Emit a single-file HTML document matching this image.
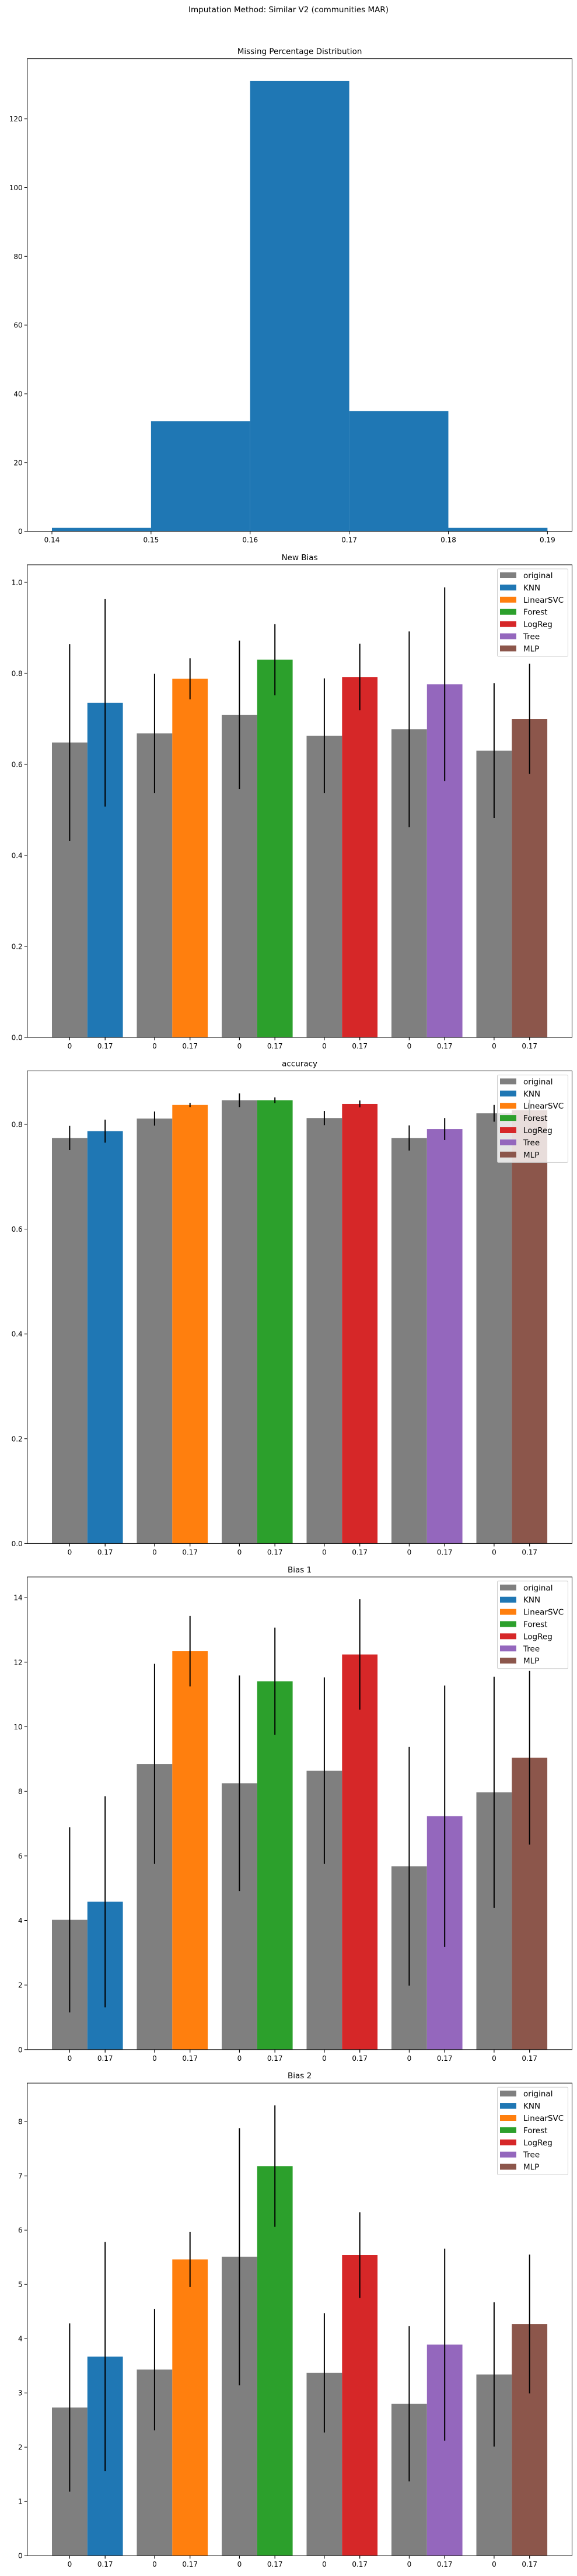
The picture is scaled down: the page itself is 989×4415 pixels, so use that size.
<!DOCTYPE html>
<html><head><meta charset="utf-8"><style>
html,body{margin:0;padding:0;background:#fff;}
svg{display:block;font-family:"DejaVu Sans","Liberation Sans",sans-serif;}
</style></head><body>
<svg id="fig" width="989" height="4415" viewBox="0 0 989 4415" xmlns="http://www.w3.org/2000/svg">
<rect width="989" height="4415" fill="#fff"/>
<text x="494.5" y="21" text-anchor="middle" font-size="13.5">Imputation Method: Similar V2 (communities MAR)</text>
</svg>
<script>
// ---- Histogram data ----
const histEdges = [0.14, 0.15, 0.16, 0.17, 0.18, 0.19];
const histCounts = [1, 32, 131, 35, 1];
const histYTicks = [0, 20, 40, 60, 80, 100, 120];
const histXTicks = ["0.14", "0.15", "0.16", "0.17", "0.18", "0.19"];

// ---- Bar chart data ----
const methods = ["KNN", "LinearSVC", "Forest", "LogReg", "Tree", "MLP"];
const xTickLabels = ["0", "0.17"];
const newBiasOrig = [0.648, 0.668, 0.709, 0.663, 0.677, 0.630];
const newBiasOrigErr = [0.216, 0.131, 0.163, 0.126, 0.215, 0.148];
const newBiasImp = [0.735, 0.788, 0.830, 0.792, 0.776, 0.700];
const newBiasImpErr = [0.228, 0.045, 0.078, 0.073, 0.213, 0.121];
const newBiasTicks = [0.0, 0.2, 0.4, 0.6, 0.8, 1.0];

const accOrig = [0.774, 0.811, 0.846, 0.812, 0.774, 0.821];
const accOrigErr = [0.023, 0.0135, 0.013, 0.0135, 0.024, 0.016];
const accImp = [0.787, 0.837, 0.846, 0.839, 0.791, 0.827];
const accImpErr = [0.022, 0.004, 0.0055, 0.0065, 0.021, 0.02];
const accTicks = [0.0, 0.2, 0.4, 0.6, 0.8];

const bias1Orig = [4.02, 8.85, 8.25, 8.64, 5.68, 7.97];
const bias1OrigErr = [2.87, 3.10, 3.34, 2.89, 3.70, 3.58];
const bias1Imp = [4.58, 12.34, 11.41, 12.24, 7.23, 9.04];
const bias1ImpErr = [3.27, 1.09, 1.66, 1.71, 4.05, 2.69];
const bias1Ticks = [0, 2, 4, 6, 8, 10, 12, 14];

const bias2Orig = [2.73, 3.43, 5.51, 3.37, 2.80, 3.34];
const bias2OrigErr = [1.55, 1.12, 2.37, 1.10, 1.43, 1.33];
const bias2Imp = [3.67, 5.46, 7.18, 5.54, 3.89, 4.27];
const bias2ImpErr = [2.11, 0.51, 1.12, 0.79, 1.77, 1.28];
const bias2Ticks = [0, 1, 2, 3, 4, 5, 6, 7, 8];

const colors = ["#1f77b4", "#ff7f0e", "#2ca02c", "#d62728", "#9467bd", "#8c564b"];
const GRAY = "#7f7f7f";

const NS = "http://www.w3.org/2000/svg";
const svg = document.getElementById("fig");
function mk(tag, attrs, parent) {
  const e = document.createElementNS(NS, tag);
  for (const k in attrs) e.setAttribute(k, attrs[k]);
  (parent || svg).appendChild(e);
  return e;
}
const AX_L = 46.7, AX_R = 980.5, AX_H = 810;

function axesFrame(g, top, name) {
  const r = mk("rect", {x: AX_L, y: top, width: AX_R - AX_L, height: AX_H, fill: "none", stroke: "#000", "stroke-width": 1}, g);
  
  
}
function title(g, top, txt, name) {
  const t = mk("text", {x: (AX_L + AX_R) / 2, y: top - 8, "text-anchor": "middle", "font-size": 13.5}, g);
  t.textContent = txt;
  
  
}
function yTicks(g, ticks, yFn, fmt, name) {
  ticks.forEach(v => {
    const y = yFn(v);
    const l = mk("line", {x1: AX_L - 5, x2: AX_L, y1: y, y2: y, stroke: "#000", "stroke-width": 1}, g);
    
    
    const t = mk("text", {x: AX_L - 8, y: y + 4.5, "text-anchor": "end", "font-size": 12}, g);
    t.textContent = fmt(v);
    
    
  });
}

// ---- Histogram ----
(function () {
  const top = 100.6, bottom = top + AX_H;
  const g = mk("g", {});
  
  
  const xMin = 0.13751, xMax = 0.19248, yMax = 137.5;
  const xs = v => AX_L + (v - xMin) / (xMax - xMin) * (AX_R - AX_L);
  const ys = v => bottom - v / yMax * AX_H;
  histCounts.forEach((c, i) => {
    const r = mk("rect", {x: xs(histEdges[i]), y: ys(c), width: xs(histEdges[i + 1]) - xs(histEdges[i]), height: bottom - ys(c), fill: "#1f77b4"}, g);
    
    
  });
  axesFrame(g, top, 'histogram');
  title(g, top, "Missing Percentage Distribution", 'histogram');
  yTicks(g, histYTicks, ys, v => String(v), 'histogram');
  histXTicks.forEach(s => {
    const x = xs(parseFloat(s));
    const l = mk("line", {x1: x, x2: x, y1: bottom, y2: bottom + 5, stroke: "#000"}, g);
    
    
    const t = mk("text", {x: x, y: bottom + 19, "text-anchor": "middle", "font-size": 12}, g);
    t.textContent = s;
    
    
  });
})();

// ---- Bar charts ----
function barChart(top, name, ttl, orig, origErr, imp, impErr, ticks, yMax, fmt) {
  const bottom = top + AX_H;
  const g = mk("g", {});
  
  
  const ys = v => bottom - v / yMax * AX_H;
  const BW = 60.8, G0 = 89, GS = 145.5;
  const errs = [];
  methods.forEach((m, i) => {
    const xg = G0 + GS * i, xc = xg + BW;
    const r1 = mk("rect", {x: xg, y: ys(orig[i]), width: BW, height: bottom - ys(orig[i]), fill: GRAY}, g);
    
    
    const r2 = mk("rect", {x: xc, y: ys(imp[i]), width: BW, height: bottom - ys(imp[i]), fill: colors[i]}, g);
    
    
    errs.push([xg + BW / 2, orig[i], origErr[i], 'original-' + m.toLowerCase()]);
    errs.push([xc + BW / 2, imp[i], impErr[i], m.toLowerCase()]);
  });
  errs.forEach(e => {
    const l = mk("line", {x1: e[0], x2: e[0], y1: ys(e[1] + e[2]), y2: ys(Math.max(0, e[1] - e[2])), stroke: "#000", "stroke-width": 2}, g);
    
    
    [0, 1].forEach(k => {
      const x = e[0];
      const tl = mk("line", {x1: x, x2: x, y1: bottom, y2: bottom + 5, stroke: "#000"}, g);
      
      
    });
    const t = mk("text", {x: e[0], y: bottom + 19, "text-anchor": "middle", "font-size": 12}, g);
    t.textContent = e[3].startsWith('original') ? xTickLabels[0] : xTickLabels[1];
    
    
  });
  axesFrame(g, top, name);
  title(g, top, ttl, name);
  yTicks(g, ticks, ys, fmt, name);
  // legend
  const lg = mk("g", {}, g);
  
  
  const lt = top + 7;
  mk("rect", {x: 852.5, y: lt, width: 121, height: 150, rx: 2, fill: "#fff", "fill-opacity": 0.8, stroke: "#ccc"}, lg);
  const labels = ["original"].concat(methods);
  const cols = [GRAY].concat(colors);
  labels.forEach((lab, i) => {
    const cy = lt + 11 + 20.9 * i;
    const p = mk("rect", {x: 857, y: cy - 5, width: 28, height: 10, fill: cols[i]}, lg);
    
    
    const t = mk("text", {x: 897, y: cy + 5, "font-size": 13.5}, lg);
    t.textContent = lab;
    
    
  });
}
barChart(968, 'new-bias', 'New Bias', newBiasOrig, newBiasOrigErr, newBiasImp, newBiasImpErr, newBiasTicks, 1.0385, v => v.toFixed(1));
barChart(1835.4, 'accuracy', 'accuracy', accOrig, accOrigErr, accImp, accImpErr, accTicks, 0.902, v => v.toFixed(1));
barChart(2702.8, 'bias-1', 'Bias 1', bias1Orig, bias1OrigErr, bias1Imp, bias1ImpErr, bias1Ticks, 14.64, v => String(v));
barChart(3570.2, 'bias-2', 'Bias 2', bias2Orig, bias2OrigErr, bias2Imp, bias2ImpErr, bias2Ticks, 8.71, v => String(v));
</script>
</body></html>
